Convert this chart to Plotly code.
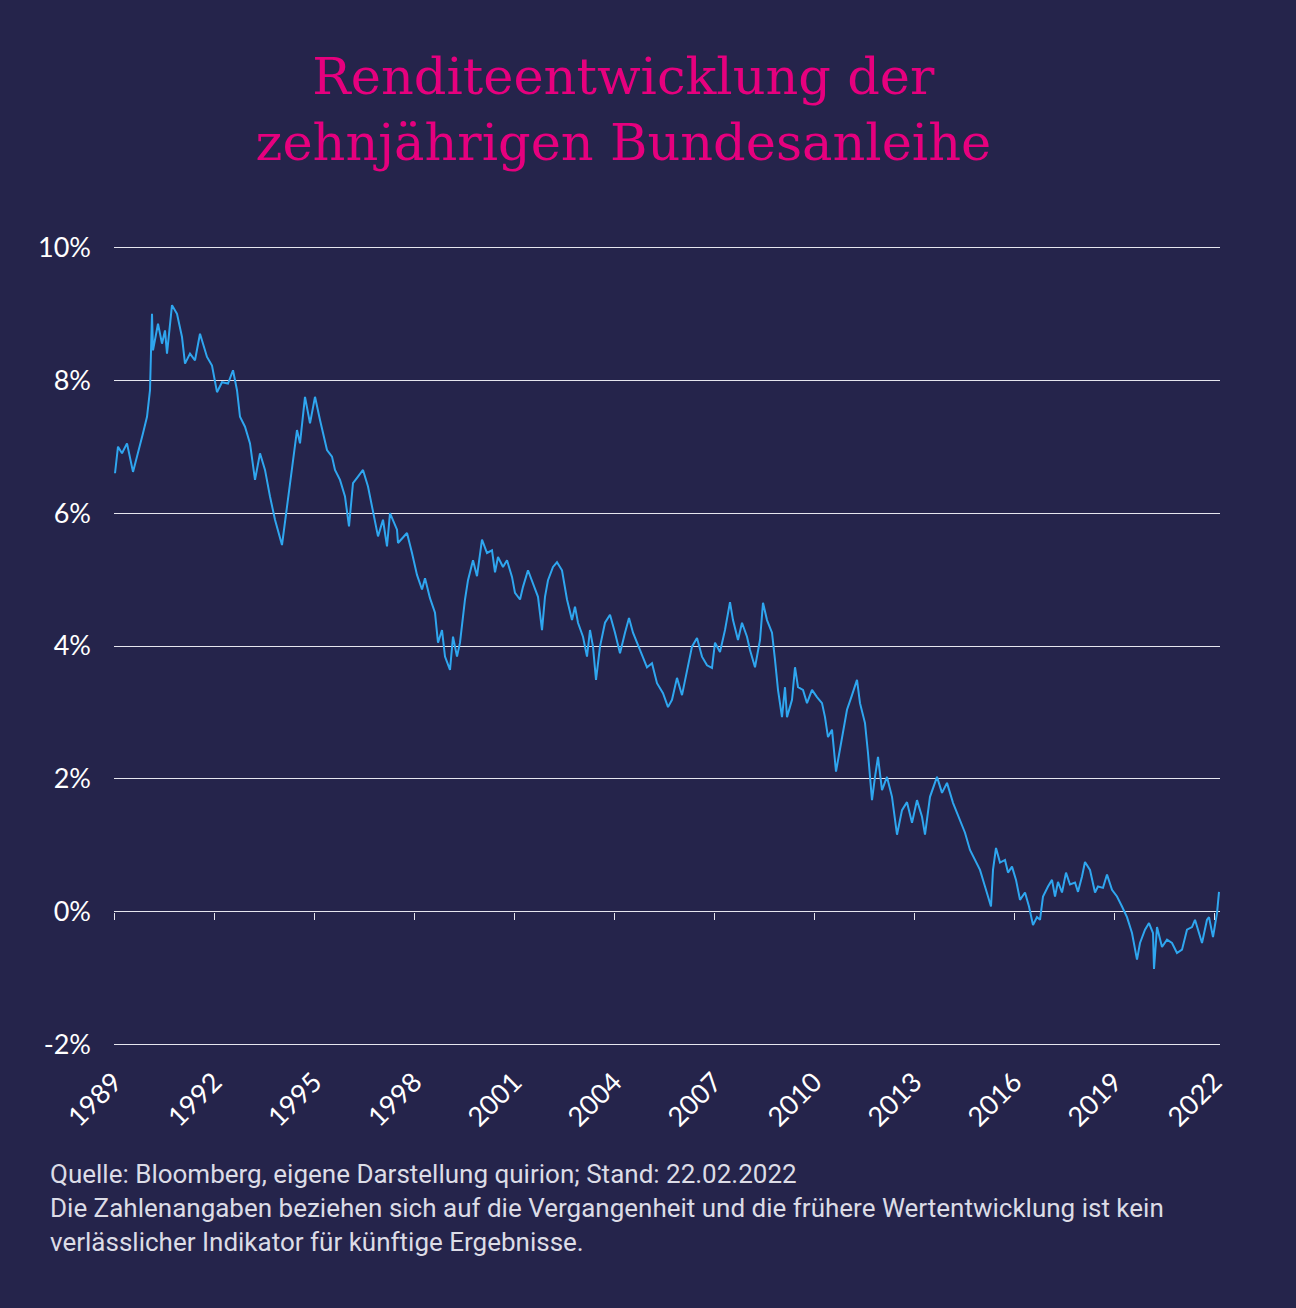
import plotly.graph_objects as go

# Rendite 10-jährige Bundesanleihe (in %)
years = [
    1989.03, 1989.12, 1989.24, 1989.39, 1989.57, 1989.72, 1989.87, 1989.99,
    1990.08, 1990.14, 1990.17, 1990.32, 1990.44, 1990.53, 1990.59, 1990.74,
    1990.89, 1991.04, 1991.13, 1991.28, 1991.43, 1991.58, 1991.79, 1991.94,
    1992.09, 1992.24, 1992.42, 1992.57, 1992.69, 1992.78, 1992.93, 1993.08,
    1993.23, 1993.38, 1993.53, 1993.68, 1993.83, 1994.04, 1994.19, 1994.34,
    1994.49, 1994.58, 1994.73, 1994.88, 1995.03, 1995.18, 1995.39, 1995.54,
    1995.63, 1995.78, 1995.93, 1996.05, 1996.17, 1996.32, 1996.47, 1996.62,
    1996.77, 1996.92, 1997.07, 1997.19, 1997.28, 1997.49, 1997.52, 1997.79,
    1997.94, 1998.09, 1998.24, 1998.33, 1998.48, 1998.63, 1998.72, 1998.84,
    1998.93, 1999.08, 1999.17, 1999.29, 1999.38, 1999.53, 1999.62, 1999.77,
    1999.89, 2000.04, 2000.19, 2000.34, 2000.43, 2000.52, 2000.67, 2000.79,
    2000.94, 2001.03, 2001.18, 2001.27, 2001.42, 2001.57, 2001.72, 2001.84,
    2001.93, 2002.02, 2002.17, 2002.29, 2002.44, 2002.59, 2002.74, 2002.83,
    2002.92, 2003.07, 2003.19, 2003.28, 2003.37, 2003.46, 2003.58, 2003.73,
    2003.88, 2004.03, 2004.18, 2004.33, 2004.45, 2004.57, 2004.78, 2004.99,
    2005.14, 2005.29, 2005.47, 2005.62, 2005.74, 2005.89, 2006.04, 2006.19,
    2006.34, 2006.49, 2006.64, 2006.79, 2006.94, 2007.03, 2007.18, 2007.33,
    2007.48, 2007.57, 2007.72, 2007.84, 2007.99, 2008.08, 2008.23, 2008.38,
    2008.47, 2008.59, 2008.74, 2008.83, 2008.92, 2009.04, 2009.13, 2009.19,
    2009.34, 2009.43, 2009.52, 2009.67, 2009.79, 2009.94, 2010.09, 2010.24,
    2010.33, 2010.42, 2010.54, 2010.66, 2010.78, 2010.87, 2010.99, 2011.14,
    2011.29, 2011.38, 2011.53, 2011.62, 2011.74, 2011.83, 2011.92, 2012.04,
    2012.19, 2012.34, 2012.43, 2012.49, 2012.64, 2012.79, 2012.94, 2013.09,
    2013.24, 2013.33, 2013.48, 2013.69, 2013.84, 2013.99, 2014.17, 2014.38,
    2014.53, 2014.68, 2014.83, 2014.98, 2015.13, 2015.31, 2015.37, 2015.46,
    2015.58, 2015.73, 2015.82, 2015.94, 2016.06, 2016.18, 2016.33, 2016.45,
    2016.57, 2016.69, 2016.78, 2016.87, 2017.02, 2017.14, 2017.23, 2017.32,
    2017.44, 2017.56, 2017.68, 2017.83, 2017.92, 2018.04, 2018.13, 2018.28,
    2018.43, 2018.52, 2018.67, 2018.79, 2018.94, 2019.09, 2019.24, 2019.39,
    2019.54, 2019.69, 2019.78, 2019.93, 2020.05, 2020.17, 2020.20, 2020.29,
    2020.44, 2020.59, 2020.74, 2020.89, 2021.04, 2021.19, 2021.34, 2021.43,
    2021.64, 2021.79, 2021.85, 2021.97, 2022.09, 2022.15,
]
yields = [
    6.60, 7.00, 6.90, 7.05, 6.62, 6.90, 7.20, 7.45,
    7.85, 9.00, 8.45, 8.85, 8.55, 8.75, 8.40, 9.13,
    9.00, 8.65, 8.25, 8.40, 8.30, 8.70, 8.35, 8.22,
    7.82, 7.97, 7.95, 8.15, 7.85, 7.45, 7.30, 7.05,
    6.50, 6.90, 6.65, 6.25, 5.90, 5.52, 6.10, 6.65,
    7.25, 7.05, 7.75, 7.35, 7.75, 7.40, 6.95, 6.85,
    6.65, 6.50, 6.25, 5.80, 6.45, 6.55, 6.65, 6.40,
    6.05, 5.65, 5.90, 5.50, 6.00, 5.75, 5.55, 5.70,
    5.40, 5.07, 4.85, 5.02, 4.72, 4.50, 4.05, 4.24,
    3.84, 3.64, 4.14, 3.84, 4.05, 4.70, 4.99, 5.29,
    5.05, 5.60, 5.40, 5.44, 5.11, 5.34, 5.19, 5.29,
    5.04, 4.80, 4.70, 4.89, 5.14, 4.95, 4.74, 4.24,
    4.74, 4.99, 5.19, 5.26, 5.14, 4.70, 4.39, 4.59,
    4.35, 4.14, 3.84, 4.24, 3.99, 3.49, 3.99, 4.35,
    4.47, 4.20, 3.89, 4.20, 4.42, 4.20, 3.94, 3.68,
    3.74, 3.44, 3.29, 3.08, 3.19, 3.52, 3.26, 3.64,
    3.99, 4.12, 3.84, 3.71, 3.67, 4.05, 3.91, 4.24,
    4.66, 4.39, 4.09, 4.35, 4.14, 3.94, 3.68, 4.09,
    4.65, 4.39, 4.20, 3.79, 3.34, 2.93, 3.38, 2.93,
    3.19, 3.68, 3.38, 3.34, 3.14, 3.34, 3.23, 3.14,
    2.93, 2.63, 2.74, 2.11, 2.44, 2.74, 3.04, 3.26,
    3.49, 3.14, 2.84, 2.39, 1.68, 2.03, 2.33, 1.83,
    2.03, 1.73, 1.43, 1.16, 1.53, 1.65, 1.34, 1.68,
    1.43, 1.16, 1.73, 2.03, 1.79, 1.94, 1.64, 1.38,
    1.19, 0.93, 0.78, 0.63, 0.38, 0.08, 0.63, 0.96,
    0.74, 0.78, 0.59, 0.68, 0.48, 0.18, 0.29, 0.08,
    -0.20, -0.08, -0.12, 0.23, 0.38, 0.48, 0.23, 0.45,
    0.29, 0.59, 0.41, 0.44, 0.30, 0.53, 0.75, 0.63,
    0.29, 0.38, 0.36, 0.56, 0.33, 0.23, 0.08, -0.08,
    -0.32, -0.72, -0.47, -0.27, -0.17, -0.32, -0.86, -0.23,
    -0.53, -0.42, -0.47, -0.62, -0.57, -0.27, -0.23, -0.12,
    -0.47, -0.12, -0.08, -0.38, -0.02, 0.30,
]

year_ticks = list(range(1989, 2023, 3))
pct_ticks = [-2, 0, 2, 4, 6, 8, 10]
pct_labels = ["-2%", "0%", "2%", "4%", "6%", "8%", "10%"]

BG = "#25244b"
LINE = "#2fa6ef"
GRID = "#e6e6ee"
PINK = "#e6007e"

Y_RANGE = [-2.05, 10.05]

fig = go.Figure()
fig.add_trace(go.Scatter(
    x=years, y=yields, mode="lines",
    line=dict(color=LINE, width=2),
    hoverinfo="x+y", showlegend=False,
))
# empty trace so the tick-mark axis (x2) gets drawn
fig.add_trace(go.Scatter(x=[], y=[], xaxis="x2", yaxis="y",
                         showlegend=False, hoverinfo="skip"))

fig.update_layout(
    width=1296, height=1308,
    paper_bgcolor=BG, plot_bgcolor=BG,
    margin=dict(l=114, r=76, t=244, b=260),
    title=dict(
        text="Renditeentwicklung der<br>zehnjährigen Bundesanleihe",
        x=0.481, xanchor="center", y=0.928, yanchor="top",
        font=dict(family="DejaVu Serif", size=51, color=PINK),
    ),
    xaxis=dict(
        range=[1989, 2022.18], tickvals=year_ticks,
        ticktext=[str(y) for y in year_ticks],
        tickangle=-45, showgrid=False, zeroline=False, showline=False,
        ticks="", ticklabelstandoff=12,
        tickfont=dict(family="Lato", size=27, color="white"),
    ),
    # second x axis only for the small tick marks on the 0% line
    xaxis2=dict(
        overlaying="x", matches="x", anchor="free",
        position=(0 - Y_RANGE[0]) / (Y_RANGE[1] - Y_RANGE[0]),
        range=[1989, 2022.18], tickvals=year_ticks,
        showticklabels=False, showgrid=False, zeroline=False, showline=False,
        ticks="outside", ticklen=7, tickwidth=1, tickcolor=GRID,
    ),
    yaxis=dict(
        range=Y_RANGE, tickvals=pct_ticks, ticktext=pct_labels,
        showgrid=True, gridcolor=GRID, gridwidth=1,
        zeroline=False, showline=False, ticks="", ticklabelstandoff=22,
        tickfont=dict(family="Lato", size=27, color="white"),
    ),
    annotations=[dict(
        text=("Quelle: Bloomberg, eigene Darstellung quirion; Stand: 22.02.2022<br>"
              "Die Zahlenangaben beziehen sich auf die Vergangenheit und die frühere "
              "Wertentwicklung ist kein<br>verlässlicher Indikator für künftige Ergebnisse."),
        xref="paper", yref="paper", x=-0.06, y=-0.135,
        xanchor="left", yanchor="top", align="left", showarrow=False,
        font=dict(family="Roboto", size=26, color="#dcdce6"),
    )],
)

fig.write_html(
    "out.html",
    config={"displayModeBar": False},
    post_script=f"document.body.style.margin='0';document.body.style.background='{BG}';",
)
